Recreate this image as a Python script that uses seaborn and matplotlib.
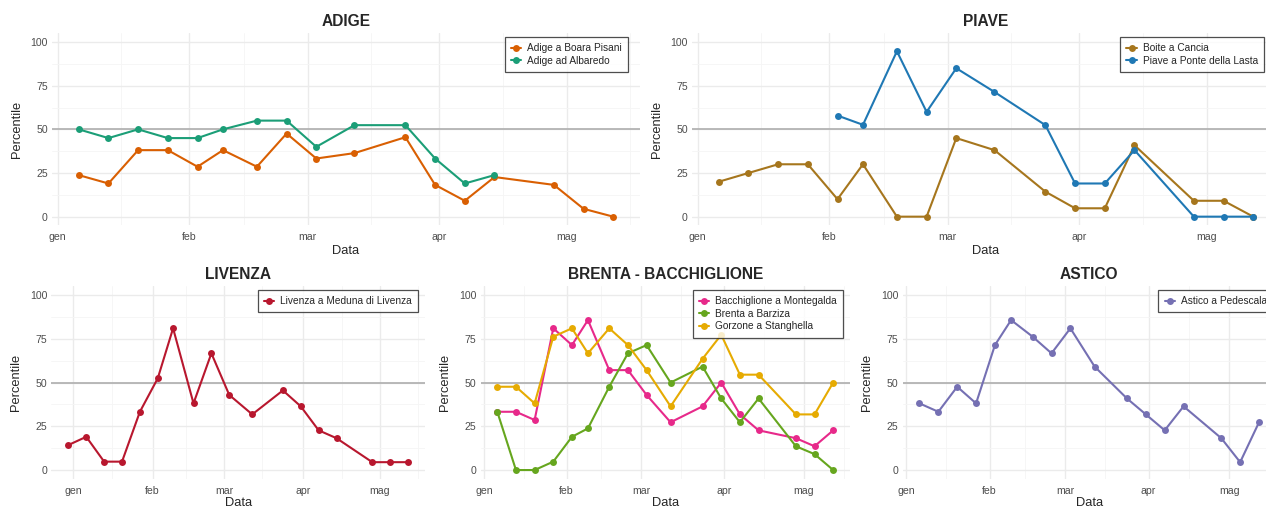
import numpy as np
import pandas as pd
import matplotlib
matplotlib.use("Agg")
import matplotlib.pyplot as plt
import seaborn as sns

sns.set_style("white")
plt.rcParams['font.family'] = ['Liberation Sans', 'DejaVu Sans']

# ---------------- data ----------------
dates_std = ["2025-01-06", "2025-01-13", "2025-01-20", "2025-01-27", "2025-02-03",
             "2025-02-09", "2025-02-17", "2025-02-24", "2025-03-03", "2025-03-12",
             "2025-03-24", "2025-03-31", "2025-04-07", "2025-04-14", "2025-04-28",
             "2025-05-05", "2025-05-12"]
dates_livenza = ["2024-12-30"] + dates_std
dates_piave_lasta = dates_std[4:]
dates_albaredo = dates_std[:14]

adige_boara = [23.8, 19.0, 38.1, 38.1, 28.6, 38.1, 28.6, 47.6, 33.3, 36.4, 45.5,
               18.2, 9.1, 22.7, 18.2, 4.5, 0.0]
adige_albaredo = [50.0, 45.0, 50.0, 45.0, 45.0, 50.0, 55.0, 55.0, 40.0, 52.4, 52.4,
                  33.3, 19.0, 23.8]
piave_boite = [20.0, 25.0, 30.0, 30.0, 10.0, 30.0, 0.0, 0.0, 45.0, 38.1, 14.3,
               4.8, 4.8, 40.9, 9.1, 9.1, 0.0]
piave_lasta = [57.9, 52.6, 94.7, 60.0, 85.0, 71.4, 52.4, 19.0, 19.0, 38.1, 0.0, 0.0, 0.0]
livenza_meduna = [14.3, 19.0, 4.8, 4.8, 33.3, 52.4, 81.0, 38.1, 66.7, 42.9, 31.8,
                  45.5, 36.4, 22.7, 18.2, 4.5, 4.5, 4.5]
bacchiglione_montegalda = [33.3, 33.3, 28.6, 81.0, 71.4, 85.7, 57.1, 57.1, 42.9, 27.3,
                           36.4, 50.0, 31.8, 22.7, 18.2, 13.6, 22.7]
brenta_barziza = [33.3, 0.0, 0.0, 4.8, 19.0, 23.8, 47.6, 66.7, 71.4, 50.0, 59.1,
                  40.9, 27.3, 40.9, 13.6, 9.1, 0.0]
gorzone_stanghella = [47.6, 47.6, 38.1, 76.2, 81.0, 66.7, 81.0, 71.4, 57.1, 36.4,
                      63.6, 77.3, 54.5, 54.5, 31.8, 31.8, 50.0]
astico_pedescala = [38.1, 33.3, 47.6, 38.1, 71.4, 85.7, 76.2, 66.7, 81.0, 59.1, 40.9,
                    31.8, 22.7, 36.4, 18.2, 4.5, 27.3]

month_ticks = ["2025-01-01", "2025-02-01", "2025-03-01", "2025-04-01", "2025-05-01"]
month_labels = ["gen", "feb", "mar", "apr", "mag"]
minor_ticks = ["2024-12-16", "2025-01-16", "2025-02-14", "2025-03-16", "2025-04-16", "2025-05-16"]
y_ticks = [0, 25, 50, 75, 100]

panels = [
    ("ADIGE", [("Adige a Boara Pisani", dates_std, adige_boara, "#D95F02"),
               ("Adige ad Albaredo", dates_albaredo, adige_albaredo, "#1B9E77")]),
    ("PIAVE", [("Boite a Cancia", dates_std, piave_boite, "#A6761D"),
               ("Piave a Ponte della Lasta", dates_piave_lasta, piave_lasta, "#1F78B4")]),
    ("LIVENZA", [("Livenza a Meduna di Livenza", dates_livenza, livenza_meduna, "#B8172E")]),
    ("BRENTA - BACCHIGLIONE", [("Bacchiglione a Montegalda", dates_std, bacchiglione_montegalda, "#E7298A"),
                               ("Brenta a Barziza", dates_std, brenta_barziza, "#66A61E"),
                               ("Gorzone a Stanghella", dates_std, gorzone_stanghella, "#E6AB02")]),
    ("ASTICO", [("Astico a Pedescala", dates_std, astico_pedescala, "#7570B3")]),
]

# ---------------- layout (pixels) ----------------
W, H = 1266, 508
rects = [  # left, right, top, bottom
    (52, 640, 33.3, 225.4),
    (692, 1280, 33.3, 225.4),
    (51.4, 425, 286.3, 478.8),
    (480.5, 850, 286.3, 478.8),
    (902.5, 1276, 286.3, 478.8),
]
legend_offset = [12, 16, 7, 7, 3]
xlabel_pad = [2.2, 2.2, 0.6, 0.6, 0.6]

fig = plt.figure(figsize=(W / 100, H / 100), dpi=100)

for (title, series), (l, r, t, b), loff, xlp in zip(panels, rects, legend_offset, xlabel_pad):
    ax = fig.add_axes([l / W, 1 - b / H, (r - l) / W, (b - t) / H])
    frames = []
    for name, d, v, c in series:
        frames.append(pd.DataFrame({"Data": pd.to_datetime(d), "Percentile": v, "stazione": name}))
    df = pd.concat(frames, ignore_index=True)
    pal = {name: c for name, d, v, c in series}
    order = [name for name, d, v, c in series]

    ax.axhline(50, color="#B3B3B3", lw=1.3, zorder=1)
    sns.lineplot(data=df, x="Data", y="Percentile", hue="stazione", hue_order=order,
                 palette=pal, marker="o", markersize=5, markeredgewidth=0,
                 linewidth=1.5, ax=ax, zorder=3)

    ax.set_xticks(pd.to_datetime(month_ticks))
    ax.set_xticklabels(month_labels)
    ax.set_xticks(pd.to_datetime(minor_ticks), minor=True)
    ax.set_yticks(y_ticks)
    ax.set_yticks([12.5, 37.5, 62.5, 87.5], minor=True)

    dmin, dmax = df["Data"].min(), df["Data"].max()
    span = dmax - dmin
    ax.set_xlim(dmin - 0.05 * span, dmax + 0.05 * span)
    ax.set_ylim(-5, 105)

    ax.grid(True, which="major", color="#EBEBEB", lw=1.0, zorder=0)
    ax.grid(True, which="minor", color="#F5F5F5", lw=0.6, zorder=0)
    ax.set_axisbelow(True)
    for s in ax.spines.values():
        s.set_visible(False)
    ax.tick_params(axis="both", which="both", length=0, labelsize=7.6, labelcolor="#4D4D4D")
    ax.tick_params(axis="x", pad=5)
    ax.tick_params(axis="y", pad=3)
    ax.set_xlabel("Data", fontsize=9.3, labelpad=xlp)
    ax.set_ylabel("Percentile", fontsize=9.3, labelpad=5.5)
    ax.set_title(title, fontsize=11.2, fontweight="bold", pad=5.5)

    handles, labels = ax.get_legend_handles_labels()
    wpx = r - l
    hpx = b - t
    leg = ax.legend(handles, labels, loc="upper right",
                    bbox_to_anchor=(1 - loff / wpx, 1 - 4 / hpx),
                    fontsize=7.3, frameon=True, fancybox=False, handlelength=1.0,
                    handletextpad=0.6, borderpad=0.6, labelspacing=0.25,
                    borderaxespad=0)
    leg.get_frame().set_edgecolor("#222222")
    leg.get_frame().set_linewidth(0.9)
    leg.set_zorder(10)

fig.savefig("out.png", dpi=100)
